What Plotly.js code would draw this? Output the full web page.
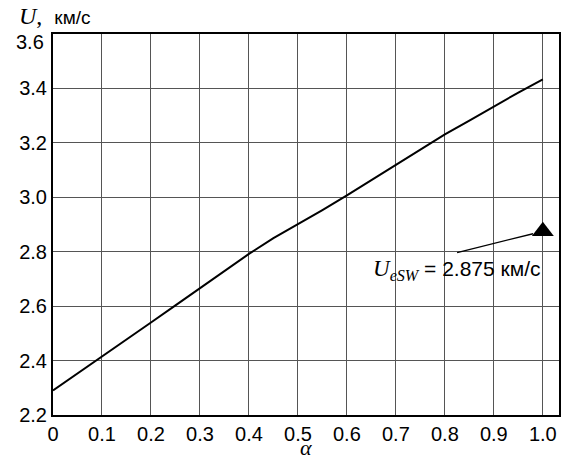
<!DOCTYPE html>
<html>
<head>
<meta charset="utf-8">
<script src="https://cdn.plot.ly/plotly-3.0.1.min.js"></script>
<style>html,body{margin:0;padding:0;background:#fff;}#chart{width:574px;height:459px;}</style>
</head>
<body>
<div id="chart"></div>
<script>
// Data
const alpha = [0, 0.05, 0.1, 0.15, 0.2, 0.25, 0.3, 0.35, 0.4, 0.45, 0.5, 0.55, 0.6, 0.65, 0.7, 0.75, 0.8, 0.85, 0.9, 0.95, 1.0];
const U = [2.290, 2.352, 2.413, 2.477, 2.540, 2.603, 2.665, 2.729, 2.792, 2.850, 2.900, 2.953, 3.007, 3.063, 3.119, 3.176, 3.231, 3.282, 3.334, 3.385, 3.433];
const swAlpha = [1.0];
const swU = [2.875];
const xTickVals = [0, 0.1, 0.2, 0.3, 0.4, 0.5, 0.6, 0.7, 0.8, 0.9, 1.0];
const xTickText = ["0", "0.1", "0.2", "0.3", "0.4", "0.5", "0.6", "0.7", "0.8", "0.9", "1.0"];
const yTickVals = [2.2, 2.4, 2.6, 2.8, 3.0, 3.2, 3.4, 3.6];
const yTickText = ["2.2", "2.4", "2.6", "2.8", "3.0", "3.2", "3.4", ""];
const yTopLabel = "3.6";

const sans = "Arial, Liberation Sans, sans-serif";
const serif = "Liberation Serif, Times New Roman, serif";

const traces = [
  {x: alpha, y: U, type: 'scatter', mode: 'lines', line: {color: '#000', width: 2}, hoverinfo: 'skip'},
  {x: swAlpha, y: swU, type: 'scatter', mode: 'markers', marker: {symbol: 'triangle-up', size: 19, color: '#000'}, hoverinfo: 'skip'}
];

const layout = {
  width: 574, height: 459,
  margin: {l: 53, r: 15, t: 34, b: 44},
  paper_bgcolor: '#fff', plot_bgcolor: '#fff',
  showlegend: false,
  font: {family: sans, size: 20, color: '#000'},
  xaxis: {
    range: [0, 1.033], tickvals: xTickVals, ticktext: xTickText,
    showgrid: true, gridcolor: '#555', gridwidth: 1,
    showline: true, linecolor: '#000', linewidth: 2, mirror: true,
    ticks: '', zeroline: false, tickfont: {family: sans, size: 20}
  },
  yaxis: {
    range: [2.2, 3.6], tickvals: yTickVals, ticktext: yTickText,
    showgrid: true, gridcolor: '#555', gridwidth: 1,
    showline: true, linecolor: '#000', linewidth: 2, mirror: true,
    ticks: '', zeroline: false, tickfont: {family: sans, size: 20}
  },
  shapes: [
    {type: 'line', xref: 'x', yref: 'y', x0: 0.825, y0: 2.797, x1: 0.98, y1: 2.866, line: {color: '#000', width: 1.3}}
  ],
  annotations: [
    {xref: 'paper', yref: 'y', x: 0, y: 3.6, xanchor: 'right', yanchor: 'middle', xshift: -7, yshift: -8, showarrow: false,
     text: yTopLabel, font: {family: sans, size: 20, color: '#000'}},
    {xref: 'paper', yref: 'paper', x: -0.072, y: 1.0, yanchor: 'bottom', xanchor: 'left', yshift: 3, showarrow: false,
     text: "<i>U</i>,  <span style=\"font-family:Arial, Liberation Sans, sans-serif;font-size:19px\">км/с</span>",
     font: {family: serif, size: 24, color: '#000'}},
    {xref: 'paper', yref: 'paper', x: 0.5, y: 0, yanchor: 'top', xanchor: 'center', yshift: -18, showarrow: false,
     text: "<i>α</i>", font: {family: serif, size: 22, color: '#000'}},
    {xref: 'x', yref: 'y', x: 0.825, y: 2.732, xanchor: 'center', yanchor: 'middle', showarrow: false,
     text: "<span style=\"font-family:Liberation Serif, Times New Roman, serif;font-size:23px\"><i>U</i><sub><i>eSW</i></sub></span> = 2.875 км/с",
     font: {family: sans, size: 21, color: '#000'}}
  ]
};

Plotly.newPlot('chart', traces, layout, {staticPlot: true, displayModeBar: false});
</script>
</body>
</html>
